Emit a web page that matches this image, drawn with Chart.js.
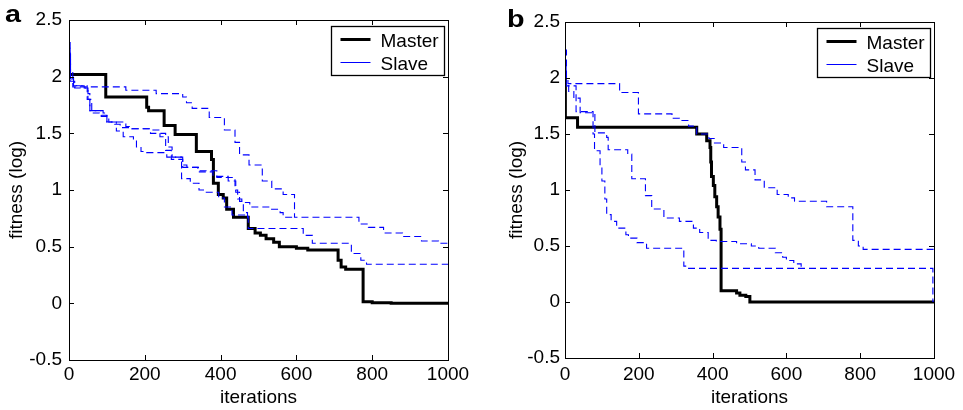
<!DOCTYPE html>
<html lang="en">
<head>
<meta charset="UTF-8" />
<title>fitness vs iterations</title>
<script src="https://cdn.jsdelivr.net/npm/chart.js@4.4.0/dist/chart.umd.min.js"></script>
<style>
	body { margin: 0; background: #fff; width: 963px; height: 410px; position: relative; overflow: hidden; }
	canvas { position: absolute; top: 0; }
	#chartA { left: 0; }
	#chartB { left: 480px; }
</style>
</head>
<body>
<canvas id="chartA" width="480" height="410"></canvas>
<canvas id="chartB" width="483" height="410"></canvas>
<script>
// step points: [iteration where the new level starts, fitness (log)]
// slave runs that merge into another one stop at the merge point
const masterA = [[0,2.02],[97,1.82],[205,1.73],[210,1.70],[251,1.57],[280,1.49],[336,1.34],[376,1.27],[381,1.06],[394,0.96],[407,0.93],[416,0.83],[434,0.76],[473,0.66],[491,0.62],[505,0.60],[520,0.57],[540,0.54],[555,0.50],[600,0.485],[630,0.47],[710,0.38],[718,0.32],[730,0.30],[776,0.015],[800,0.005],[850,0],[1000,0]];
const slaveA1 = [[0,2.3],[3,2.05],[10,1.91],[150,1.88],[230,1.85],[300,1.82],[310,1.77],[325,1.72],[370,1.64],[410,1.53],[438,1.42],[450,1.31],[475,1.22],[510,1.08],[535,1.01],[565,0.96],[595,0.76],[765,0.70],[790,0.67],[830,0.62],[880,0.59],[930,0.55],[975,0.53],[1000,0.52]];
const slaveA2 = [[0,2.25],[3,2.0],[12,1.92],[48,1.80],[55,1.70],[85,1.65],[105,1.60],[150,1.56],[165,1.54],[214,1.53],[240,1.47],[262,1.38],[272,1.29],[300,1.22],[311,1.20],[346,1.17],[390,1.11],[438,1.0],[445,0.92],[456,0.89],[477,0.85],[530,0.83],[557,0.80],[565,0.76],[597,0.76]];
const slaveA3 = [[0,2.2],[4,1.98],[12,1.92],[40,1.90],[50,1.85],[55,1.70],[90,1.68],[100,1.60],[125,1.52],[143,1.47],[170,1.44],[178,1.38],[190,1.34],[205,1.33],[258,1.29],[297,1.10],[320,1.06],[343,1.0],[360,0.98],[395,0.93],[410,0.85],[430,0.78],[473,0.66],[618,0.60],[642,0.53],[745,0.44],[770,0.38],[785,0.345],[1000,0.345]];
const slaveA4 = [[0,2.15],[4,1.96],[15,1.90],[50,1.80],[60,1.68],[80,1.66],[100,1.60],[120,1.58],[135,1.55],[160,1.54],[215,1.50],[250,1.50],[255,1.35],[270,1.27],[300,1.20],[340,1.16],[380,1.12],[420,1.08],[440,0.98],[450,0.90],[460,0.80],[471,0.75],[473,0.75]];

const masterB = [[0,2.0],[1,1.645],[34,1.56],[357,1.50],[384,1.44],[393,1.38],[395,1.25],[397,1.12],[402,1.04],[406,0.94],[411,0.85],[415,0.76],[420,0.65],[423,0.10],[465,0.08],[474,0.06],[490,0.05],[501,0],[1000,0]];
const slaveB1 = [[0,2.25],[4,2.0],[8,1.95],[148,1.87],[199,1.68],[290,1.64],[310,1.62],[335,1.57],[357,1.50],[390,1.46],[405,1.42],[430,1.38],[479,1.25],[489,1.18],[515,1.09],[540,1.02],[575,0.96],[605,0.93],[622,0.90],[709,0.85],[780,0.55],[795,0.50],[808,0.47],[1000,0.47]];
const slaveB2 = [[0,2.1],[3,1.95],[10,1.88],[24,1.82],[41,1.69],[81,1.51],[113,1.47],[117,1.36],[170,1.32],[181,1.10],[218,0.95],[235,0.83],[268,0.75],[310,0.72],[348,0.66],[365,0.62],[388,0.55],[410,0.54],[465,0.52],[505,0.50],[525,0.48],[570,0.44],[590,0.40],[600,0.37],[620,0.34],[640,0.305]];
const slaveB3 = [[0,2.05],[3,1.93],[30,1.70],[76,1.50],[80,1.35],[95,1.22],[100,1.08],[108,0.92],[113,0.78],[125,0.72],[140,0.66],[165,0.60],[172,0.57],[195,0.53],[221,0.48],[322,0.32],[335,0.30],[997,0.0],[1000,0.0]];

const xTicks = [0, 200, 400, 600, 800, 1000];
const yTicks = [-0.5, 0, 0.5, 1, 1.5, 2, 2.5];
const seriesNames = ["Master", "Slave"];

const FONT = "'Liberation Sans', Arial, sans-serif";

// box round the plot with inward ticks, legend box and panel letter
const frame = {
	id: "frame",
	afterDraw(chart, args, opts) {
		const ctx = chart.ctx;
		const a = chart.chartArea;
		ctx.save();
		ctx.strokeStyle = "#000";
		ctx.lineWidth = 1;
		ctx.strokeRect(Math.round(a.left) + 0.5, Math.round(a.top) + 0.5, Math.round(a.right - a.left), Math.round(a.bottom - a.top));
		ctx.beginPath();
		chart.scales.x.ticks.forEach((t) => {
			const px = Math.round(chart.scales.x.getPixelForValue(t.value)) + 0.5;
			ctx.moveTo(px, a.bottom); ctx.lineTo(px, a.bottom - 5);
			ctx.moveTo(px, a.top); ctx.lineTo(px, a.top + 5);
		});
		chart.scales.y.ticks.forEach((t) => {
			const py = Math.round(chart.scales.y.getPixelForValue(t.value)) + 0.5;
			ctx.moveTo(a.left, py); ctx.lineTo(a.left + 5, py);
			ctx.moveTo(a.right, py); ctx.lineTo(a.right - 5, py);
		});
		ctx.stroke();

		// legend
		const bw = 113, bh = 49;
		const bx = Math.round(a.right) - 4 - bw + 0.5;
		const by = Math.round(a.top) + 6 + 0.5;
		ctx.fillStyle = "#fff";
		ctx.fillRect(bx, by, bw, bh);
		ctx.lineWidth = 1.3;
		ctx.strokeRect(bx, by, bw, bh);
		ctx.font = "19px " + FONT;
		ctx.textBaseline = "alphabetic";
		ctx.textAlign = "left";
		seriesNames.forEach((name, i) => {
			const ds = chart.data.datasets.find((d) => d.label === name);
			const ly = by + 13 + i * 23;
			ctx.beginPath();
			ctx.strokeStyle = ds.borderColor;
			ctx.lineWidth = name === "Master" ? 3 : 1;
			ctx.setLineDash([]);
			ctx.moveTo(bx + 9, ly);
			ctx.lineTo(bx + 39, ly);
			ctx.stroke();
			ctx.fillStyle = "#000";
			ctx.fillText(name, bx + 49, ly + 7);
		});

		// panel letter
		ctx.font = "bold 23px " + FONT;
		ctx.fillStyle = "#000";
		ctx.translate(opts.lx, opts.ly);
		ctx.scale(1.25, 1);
		ctx.fillText(opts.letter, 0, 0);
		ctx.restore();
	},
};

function pts(list) {
	return list.map(([x, y]) => ({ x: x, y: y }));
}

function makeChart(id, master, slaves, lay) {
	const datasets = [];
	slaves.forEach((s) => {
		datasets.push({
			label: "Slave",
			data: pts(s),
			borderColor: "#0000ff",
			borderWidth: 1.1,
			borderDash: [7, 4],
			stepped: true,
			pointRadius: 0,
			fill: false,
		});
	});
	datasets.push({
		label: "Master",
		data: pts(master),
		borderColor: "#000",
		borderWidth: 3,
		stepped: true,
		pointRadius: 0,
		fill: false,
	});

	return new Chart(document.getElementById(id), {
		type: "line",
		data: { datasets: datasets },
		plugins: [frame],
		options: {
			responsive: false,
			animation: false,
			layout: { padding: { top: lay.top, right: lay.right, left: 0, bottom: 0 } },
			plugins: {
				legend: { display: false },
				tooltip: { enabled: false },
				frame: { letter: lay.letter, lx: lay.lx, ly: lay.ly },
			},
			scales: {
				x: {
					type: "linear",
					min: 0,
					max: 1000,
					afterBuildTicks: (s) => { s.ticks = xTicks.map((v) => ({ value: v })); },
					afterFit: (s) => { s.height = lay.xh; },
					grid: { display: false, drawTicks: false },
					border: { display: false },
					ticks: { color: "#000", font: { family: FONT, size: 19 }, padding: lay.xpad, maxRotation: 0, callback: (v) => String(v) },
					title: { display: true, text: "iterations", color: "#000", font: { family: FONT, size: 19 }, padding: { top: 0, bottom: 1 } },
				},
				y: {
					min: -0.5,
					max: 2.5,
					afterBuildTicks: (s) => { s.ticks = yTicks.map((v) => ({ value: v })); },
					afterFit: (s) => { s.width = lay.yw; },
					grid: { display: false, drawTicks: false },
					border: { display: false },
					ticks: { color: "#000", font: { family: FONT, size: 19 }, padding: lay.ypad, callback: (v) => String(v) },
					title: { display: true, text: "fitness (log)", color: "#000", font: { family: FONT, size: 19 }, padding: { top: lay.ytp, bottom: 0 } },
				},
			},
		},
	});
}

makeChart("chartA", masterA, [slaveA1, slaveA2, slaveA3, slaveA4], { top: 20, right: 32, xh: 50, yw: 69, xpad: 3, ypad: 7, ytp: 5, letter: "a", lx: 5, ly: 22 });
makeChart("chartB", masterB, [slaveB1, slaveB2, slaveB3], { top: 22, right: 29, xh: 52, yw: 85, xpad: 5, ypad: 5, ytp: 25, letter: "b", lx: 27, ly: 27 });
</script>
</body>
</html>
